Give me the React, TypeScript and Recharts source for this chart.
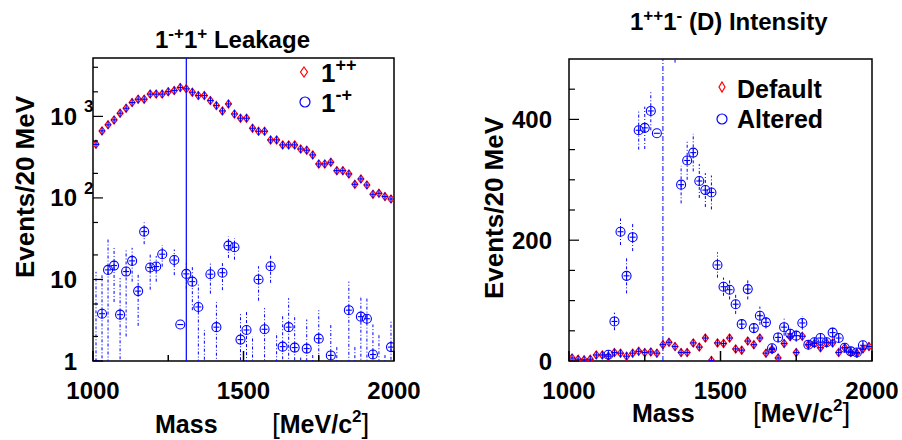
import React from 'react';
import { ScatterChart, Scatter, XAxis, YAxis, ErrorBar, ReferenceLine, ReferenceArea } from 'recharts';

// bin centres, 20 MeV bins
const MASS = [
  1010, 1030, 1050, 1070, 1090, 1110, 1130, 1150, 1170, 1190,
  1210, 1230, 1250, 1270, 1290, 1310, 1330, 1350, 1370, 1390,
  1410, 1430, 1450, 1470, 1490, 1510, 1530, 1550, 1570, 1590,
  1610, 1630, 1650, 1670, 1690, 1710, 1730, 1750, 1770, 1790,
  1810, 1830, 1850, 1870, 1890, 1910, 1930, 1950, 1970, 1990,
];

// left pad: 1-+1+ leakage
const LEAK_1PP = [
  454, 664, 787, 906, 1094, 1260, 1475, 1625, 1625, 1875,
  1875, 1875, 2010, 2075, 2260, 2175, 1980, 1800, 1800, 1563,
  1358, 1167, 1422, 1070, 950, 950, 716, 657, 657, 515,
  515, 447, 447, 447, 398, 385, 337, 261, 261, 274,
  216, 216, 197, 147, 171, 144, 111, 114, 104, 97,
];
const LEAK_1MP = [
  0.9, 3.8, 13.1, 14.8, 3.7, 12.5, 16.9, 7.2, 38.6, 14,
  14.4, 20.4, null, 17.3, 2.8, 11.7, 9.4, 4.6, 0.6, 11.6,
  2.6, 12.1, 26, 24.8, 1.83, 2.4, 0.8, 10, 2.45, 14.5,
  0.7, 1.5, 2.6, 1.46, 0.3, 1.42, 0.4, 1.88, null, 1.17,
  0.5, null, 4.2, 0.5, 3.5, 3.3, 1.2, 0.7, 0.4, 1.48,
];
const LEAK_1MP_ERR = [
  11.5, 8, 19, 9.5, 6.7, 10.5, 7.5, 4.5, 11.5, 6.5,
  5, 6, 0, 6, 0, 4, 5.2, 4.5, 1.8, 4.9,
  2.7, 4.7, 7.6, 7.3, 2, 1.8, 1.2, 4.5, 2, 5.4,
  1.5, 2.2, 3.3, 2.2, 0.8, 1.8, 0.85, 2.3, 0, 1.7,
  1.0, 0, 5.2, 1.0, 2.6, 2.6, 1.6, 1.4, 0.85, 1.56,
];

// right pad: 1++1- (D) intensity
const INT_DEFAULT = [
  5, 3, 2, 3, 10, 10, 8, 14, 13, 8,
  13, 16, 14, 15, 13, 27, 31, 24, 14, 14,
  30, 23, 38, 1, 30, 29, 38, 20, 18, 33,
  27, 38, 13, 19, 5, 29, 40, 14, 41, 27,
  29, 22, 30, 30, 14, 22, 14, 13, 20, 24,
];
const INT_ALTERED = [
  null, null, null, null, null, null, 10.4, 65.5, 214, 141,
  205, 382, 386, 414, 377, null, null, 530, 292, 332,
  345, 298, 283, 279, 159, 123, 118, 94, 61, 119,
  54.5, 75, 64, 21, 39, 56, 45, 42, 63, 27,
  31, 38, 31, 47, 38, 22, 16, 14, 26, null,
];
const INT_ALTERED_ERR = [
  0, 0, 0, 0, 0, 0, 4, 14.5, 22, 29,
  23, 32, 35, 32, 0, 0, 0, 36, 31, 32,
  31, 28, 28, 28, 21, 15, 16, 16, 8, 17,
  8, 15, 10, 6, 8, 14, 10, 10, 11, 6,
  6, 7, 6, 8, 7, 6, 5, 5, 6, 0,
];

const X_TICKS = [1000, 1250, 1500, 1750, 2000];
const X_LABELS = [1000, 1500, 2000];
const LOG_TICKS = [
  1, 2, 3, 4, 5, 6, 7, 8, 9,
  10, 20, 30, 40, 50, 60, 70, 80, 90,
  100, 200, 300, 400, 500, 600, 700, 800, 900,
  1000, 2000, 3000, 4000,
];
const LIN_TICKS = [0, 50, 100, 150, 200, 250, 300, 350, 400, 450];
const LIN_LABELS = [0, 200, 400];
const MARK_MASS = 1310;

const RED = '#ff0000';
const BLUE = '#0000ff';
const FONT = '"Liberation Sans", Arial, Helvetica, sans-serif';

const leakFull = MASS.map((m, i) => ({ m, v: LEAK_1PP[i] }));
const leakMinus = MASS.map((m, i) => ({
  m,
  v: LEAK_1MP[i],
  // log axis: keep the lower arm positive, the clip hides the rest
  err: LEAK_1MP[i] == null ? 0 : [Math.min(LEAK_1MP_ERR[i], LEAK_1MP[i] * 0.999), LEAK_1MP_ERR[i]],
  hasErr: LEAK_1MP_ERR[i] > 0,
})).filter(d => d.v != null);
const intDefault = MASS.map((m, i) => ({ m, v: INT_DEFAULT[i] }));
const intAltered = MASS.map((m, i) => ({
  m,
  v: INT_ALTERED[i],
  err: INT_ALTERED_ERR[i],
  hasErr: INT_ALTERED_ERR[i] > 0,
})).filter(d => d.v != null);

function DiamondCross(props: any) {
  const { cx, cy } = props;
  if (cx == null || cy == null || isNaN(cy)) return null;
  return (
    <g>
      <polygon
        points={`${cx},${cy - 4} ${cx + 3},${cy} ${cx},${cy + 4} ${cx - 3},${cy}`}
        fill="none" stroke={RED} strokeWidth={1.2}
      />
      <line x1={cx - 3} x2={cx + 3} y1={cy} y2={cy} stroke={BLUE} strokeWidth={1.2} />
      <line x1={cx} x2={cx} y1={cy - 4} y2={cy + 4} stroke={BLUE} strokeWidth={1.2} />
    </g>
  );
}

function CircleCross(props: any) {
  const { cx, cy, payload } = props;
  if (cx == null || cy == null || isNaN(cy)) return null;
  return (
    <g>
      <circle cx={cx} cy={cy} r={4.5} fill="none" stroke={BLUE} strokeWidth={1.1} />
      <line x1={cx - 3} x2={cx + 3} y1={cy} y2={cy} stroke={BLUE} strokeWidth={1.1} />
      {payload?.hasErr && <line x1={cx} x2={cx} y1={cy - 4.5} y2={cy + 4.5} stroke={BLUE} strokeWidth={1.1} />}
    </g>
  );
}

function MassTick(props: any) {
  const { x, y, payload } = props;
  const v = payload.value;
  const major = X_LABELS.includes(v);
  return (
    <g>
      <line x1={x} x2={x} y1={y} y2={y - (major ? 10 : 6)} stroke="#000" strokeWidth={1.5} />
      {major && (
        <text x={x} y={y + 38} textAnchor="middle" fontFamily={FONT} fontWeight="bold" fontSize={24} fill="#000">
          {v}
        </text>
      )}
    </g>
  );
}

function LogTick(props: any) {
  const { x, y, payload } = props;
  const v = payload.value;
  const e = Math.log10(v);
  const major = Math.abs(e - Math.round(e)) < 1e-6;
  const exp = Math.round(e);
  return (
    <g>
      <line x1={x} x2={x + (major ? 10 : 5)} y1={y} y2={y} stroke="#000" strokeWidth={1.2} />
      {major && (
        <text x={x - 16} y={y + 8.5} textAnchor="end" fontFamily={FONT} fontWeight="bold" fontSize={24} fill="#000">
          {exp === 0 ? '1' : '10'}
        </text>
      )}
      {major && exp >= 2 && (
        <text x={x - 9} y={y - 4} fontFamily={FONT} fontWeight="bold" fontSize={17} fill="#000">
          {exp}
        </text>
      )}
    </g>
  );
}

function LinTick(props: any) {
  const { x, y, payload } = props;
  const v = payload.value;
  const major = LIN_LABELS.includes(v);
  return (
    <g>
      <line x1={x} x2={x + (major ? 10 : 6)} y1={y} y2={y} stroke="#000" strokeWidth={1.2} />
      {major && (
        <text x={x - 17} y={y + 8.5} textAnchor="end" fontFamily={FONT} fontWeight="bold" fontSize={24} fill="#000">
          {v}
        </text>
      )}
    </g>
  );
}

const errStyle = { stroke: BLUE, strokeWidth: 1, strokeDasharray: '3 2 1 2' };

function LeakagePad() {
  return (
    <ScatterChart width={451} height={440} margin={{ top: 58, right: 57, bottom: 49, left: 33 }}>
      <XAxis
        type="number" dataKey="m" domain={[1000, 2000]} ticks={X_TICKS} allowDataOverflow
        axisLine={false} tickLine={false} tickSize={0} tickMargin={0} height={30} tick={<MassTick />}
      />
      <YAxis
        type="number" dataKey="v" scale="log" domain={[1, 5200]} ticks={LOG_TICKS} allowDataOverflow
        axisLine={false} tickLine={false} tickSize={0} tickMargin={0} width={60} tick={<LogTick />}
      />
      <ReferenceArea x1={1000} x2={2000} y1={1} y2={5200} fill="none" stroke="#000" strokeWidth={1.5} />
      <ReferenceLine x={MARK_MASS} stroke={BLUE} strokeWidth={1.2} />
      <Scatter data={leakFull} shape={<DiamondCross />} isAnimationActive={false} />
      <Scatter data={leakMinus} shape={<CircleCross />} isAnimationActive={false}>
        <ErrorBar dataKey="err" direction="y" width={0} clipPath="url(#leakClip)" {...errStyle} />
      </Scatter>
    </ScatterChart>
  );
}

function IntensityPad() {
  return (
    <ScatterChart width={451} height={440} margin={{ top: 59, right: 30, bottom: 49, left: 58 }}>
      <XAxis
        type="number" dataKey="m" domain={[1000, 2000]} ticks={X_TICKS} allowDataOverflow
        axisLine={false} tickLine={false} tickSize={0} tickMargin={0} height={30} tick={<MassTick />}
      />
      <YAxis
        type="number" dataKey="v" domain={[0, 500]} ticks={LIN_TICKS} allowDataOverflow
        axisLine={false} tickLine={false} tickSize={0} tickMargin={0} width={60} tick={<LinTick />}
      />
      <ReferenceArea x1={1000} x2={2000} y1={0} y2={500} fill="none" stroke="#000" strokeWidth={1.5} />
      <ReferenceLine x={MARK_MASS} stroke={BLUE} strokeWidth={1} strokeDasharray="5 2 1 2" />
      <Scatter data={intDefault} shape={<DiamondCross />} isAnimationActive={false} />
      <Scatter data={intAltered} shape={<CircleCross />} isAnimationActive={false}>
        <ErrorBar dataKey="err" direction="y" width={0} clipPath="url(#intClip)" {...errStyle} />
      </Scatter>
    </ScatterChart>
  );
}

function Sup({ children, size = 17, rise = 9 }: { children: React.ReactNode; size?: number; rise?: number }) {
  return <tspan fontSize={size} dy={-rise}>{children}</tspan>;
}

function Overlay() {
  const t = { fontFamily: FONT, fontWeight: 'bold' as const, fill: '#000' };
  return (
    <svg width={902} height={440} style={{ position: 'absolute', left: 0, top: 0, pointerEvents: 'none' }}>
      <defs>
        {/* plot frames, in each pad's own coordinates */}
        <clipPath id="leakClip" clipPathUnits="userSpaceOnUse">
          <rect x={93} y={58} width={301} height={303} />
        </clipPath>
        <clipPath id="intClip" clipPathUnits="userSpaceOnUse">
          <rect x={118} y={59} width={303} height={302} />
        </clipPath>
      </defs>

      {/* pad titles */}
      <text x={155} y={48} fontSize={24} {...t}>
        1<Sup>-+</Sup><tspan dy={9}>1</tspan><Sup>+</Sup><tspan dy={9}> Leakage</tspan>
      </text>
      <text x={630} y={30} fontSize={24} {...t}>
        1<Sup>++</Sup><tspan dy={9}>1</tspan><Sup>-</Sup><tspan dy={9}> (D) Intensity</tspan>
      </text>

      {/* y titles */}
      <text x={34} y={187} fontSize={26} textAnchor="middle" transform="rotate(-90 34 187)" {...t}>Events/20 MeV</text>
      <text x={503} y={208} fontSize={26} textAnchor="middle" transform="rotate(-90 503 208)" {...t}>Events/20 MeV</text>

      {/* x titles */}
      <text x={155} y={433} fontSize={25} {...t}>Mass</text>
      <text x={272} y={433} fontSize={25} {...t}>
        <tspan fontWeight="normal" fontSize={28}>[</tspan>MeV/c<Sup size={17} rise={11}>2</Sup>
        <tspan dy={11} fontWeight="normal" fontSize={28}>]</tspan>
      </text>
      <text x={632} y={422} fontSize={25} {...t}>Mass</text>
      <text x={753} y={422} fontSize={25} {...t}>
        <tspan fontWeight="normal" fontSize={28}>[</tspan>MeV/c<Sup size={17} rise={11}>2</Sup>
        <tspan dy={11} fontWeight="normal" fontSize={28}>]</tspan>
      </text>

      {/* left legend */}
      <polygon points="304,67 307.5,72 304,77 300.5,72" fill="none" stroke={RED} strokeWidth={1.2} />
      <text x={321} y={82} fontSize={26} {...t}>1<Sup size={18} rise={11}>++</Sup></text>
      <circle cx={305} cy={102} r={5} fill="none" stroke={BLUE} strokeWidth={1.2} />
      <text x={321} y={112} fontSize={26} {...t}>1<Sup size={18} rise={11}>-+</Sup></text>

      {/* right legend */}
      <polygon points="722,82 725,87 722,92 719,87" fill="none" stroke={RED} strokeWidth={1.2} />
      <text x={737} y={98} fontSize={25} {...t}>Default</text>
      <circle cx={722} cy={119} r={5} fill="none" stroke={BLUE} strokeWidth={1.2} />
      <text x={737} y={128} fontSize={25} {...t}>Altered</text>
    </svg>
  );
}

export default function App() {
  return (
    <div style={{ position: 'absolute', left: 0, top: 0, width: 902, height: 440, background: '#fff' }}>
      <div style={{ position: 'absolute', left: 0, top: 0 }}>
        <LeakagePad />
      </div>
      <div style={{ position: 'absolute', left: 451, top: 0 }}>
        <IntensityPad />
      </div>
      <Overlay />
    </div>
  );
}
